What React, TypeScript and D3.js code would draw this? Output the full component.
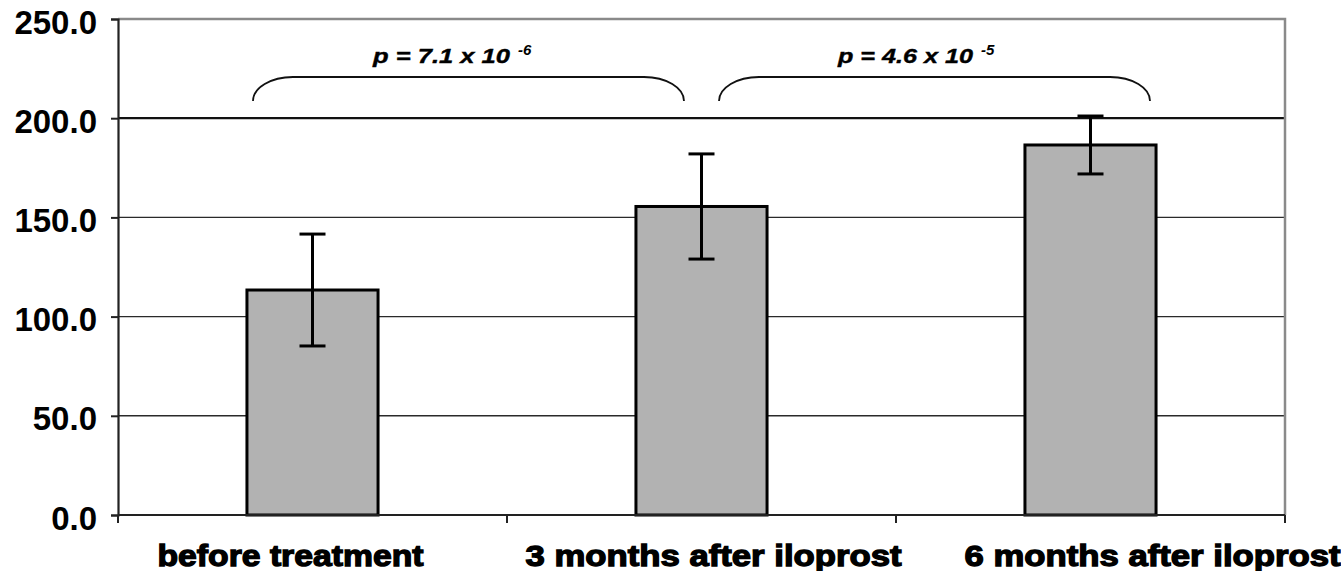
import React, { useEffect, useRef } from 'react';
import * as d3 from 'd3';

const categories = ['before treatment', '3 months after iloprost', '6 months after iloprost'];
const means = [113.4, 155.5, 186.5];
const errors = [28.2, 26.5, 14.6];
const yTicks = [0, 50, 100, 150, 200, 250];
const pLabels = [
  { base: 'p = 7.1 x 10', exp: '-6' },
  { base: 'p = 4.6 x 10', exp: '-5' },
];

const W = 1341;
const H = 571;

const App: React.FC = () => {
  const svgRef = useRef<SVGSVGElement | null>(null);

  useEffect(() => {
    if (!svgRef.current) return;
    const svg = d3.select(svgRef.current);
    svg.selectAll('*').remove();

    const left = 118;
    const right = 1285;
    const top = 19;
    const bottom = 515;

    const x = d3.scaleBand<string>().domain(categories).range([left, right]).paddingInner(0.663).paddingOuter(0.3315);
    const y = d3.scaleLinear().domain([0, 250]).range([bottom, top]);
    const step = x.step();
    const center = (i: number) => (x(categories[i]) as number) + x.bandwidth() / 2;

    svg.append('rect').attr('width', W).attr('height', H).attr('fill', '#fff');

    // gridlines
    svg
      .append('g')
      .selectAll('line')
      .data(yTicks.filter((t) => t > 0 && t < 250))
      .enter()
      .append('line')
      .attr('x1', left)
      .attr('x2', right)
      .attr('y1', (d) => y(d))
      .attr('y2', (d) => y(d))
      .attr('stroke', (d) => (d === 200 ? '#111' : '#2a2a2a'))
      .attr('stroke-width', (d) => (d === 200 ? 2.2 : 1.4));

    // frame top + right
    svg
      .append('path')
      .attr('d', `M${left},${top}H${right}V${bottom}`)
      .attr('fill', 'none')
      .attr('stroke', '#8a8a8a')
      .attr('stroke-width', 2.5);

    // bars
    svg
      .append('g')
      .selectAll('rect')
      .data(means)
      .enter()
      .append('rect')
      .attr('x', (_, i) => x(categories[i]) as number)
      .attr('y', (d) => y(d))
      .attr('width', x.bandwidth())
      .attr('height', (d) => y(0) - y(d))
      .attr('fill', '#b2b2b2')
      .attr('stroke', '#000')
      .attr('stroke-width', 3);

    // error bars
    const eb = svg.append('g').attr('stroke', '#000').attr('stroke-width', 3);
    means.forEach((m, i) => {
      const cx = center(i);
      eb.append('line').attr('x1', cx).attr('x2', cx).attr('y1', y(m + errors[i])).attr('y2', y(m - errors[i]));
      [m + errors[i], m - errors[i]].forEach((v) => {
        eb.append('line').attr('x1', cx - 13).attr('x2', cx + 13).attr('y1', y(v)).attr('y2', y(v));
      });
    });

    // axes
    const yAxis = d3.axisLeft(y).tickValues(yTicks).tickSize(7).tickPadding(14).tickFormat(d3.format('.1f'));
    const gy = svg.append('g').attr('transform', `translate(${left},0)`).call(yAxis);
    gy.select('.domain').attr('stroke', '#222').attr('stroke-width', 2.2);
    gy.selectAll('.tick line').attr('stroke', '#222').attr('stroke-width', 2);
    gy.selectAll('.tick text')
      .attr('font-family', '"Liberation Sans", Arial, sans-serif')
      .attr('font-weight', 'bold')
      .attr('font-size', 33)
      .attr('fill', '#000')
      .attr('dy', 14);

    const boundaries = d3.range(categories.length + 1).map((i) => left + i * step);
    const gx = svg.append('g');
    gx.append('line').attr('x1', left).attr('x2', right).attr('y1', bottom).attr('y2', bottom).attr('stroke', '#222').attr('stroke-width', 2.2);
    gx.selectAll('line.tk')
      .data(boundaries)
      .enter()
      .append('line')
      .attr('class', 'tk')
      .attr('x1', (d) => d)
      .attr('x2', (d) => d)
      .attr('y1', bottom)
      .attr('y2', bottom + 8)
      .attr('stroke', '#222')
      .attr('stroke-width', 2);

    const labelShift = [-22, 12, 62];
    const labelWidth = [266, 376, 376];
    gx.selectAll('text')
      .data(categories)
      .enter()
      .append('text')
      .attr('x', (_, i) => center(i) + labelShift[i])
      .attr('y', 566)
      .attr('text-anchor', 'middle')
      .attr('textLength', (_, i) => labelWidth[i])
      .attr('lengthAdjust', 'spacingAndGlyphs')
      .attr('font-family', '"Liberation Sans", Arial, sans-serif')
      .attr('font-weight', 'bold')
      .attr('font-size', 30)
      .attr('fill', '#000')
      .attr('stroke', '#000')
      .attr('stroke-width', 1.3)
      .text((d) => d);

    // significance braces
    const braces = [
      [center(0) - 0.153 * step, center(1) - 0.045 * step],
      [center(1) + 0.045 * step, center(2) + 0.153 * step],
    ];
    const yb = 101;
    const yt = 77;
    const rx = 40;
    const textShift = [-27, -29];
    const baseWidth = [137, 135];
    const ann = svg.append('g');
    braces.forEach(([x0, x1], i) => {
      ann
        .append('path')
        .attr('d', `M${x0},${yb}A${rx},${yb - yt} 0 0 1 ${x0 + rx},${yt}H${x1 - rx}A${rx},${yb - yt} 0 0 1 ${x1},${yb}`)
        .attr('fill', 'none')
        .attr('stroke', '#111')
        .attr('stroke-width', 1.8);
      const mid = (x0 + x1) / 2 + textShift[i];
      ann
        .append('text')
        .attr('x', mid)
        .attr('y', 63)
        .attr('text-anchor', 'middle')
        .attr('font-family', '"Liberation Sans", Arial, sans-serif')
        .attr('font-weight', 'bold')
        .attr('font-style', 'italic')
        .attr('font-size', 20)
        .attr('fill', '#000')
        .attr('stroke', '#000')
        .attr('stroke-width', 0.4)
        .attr('textLength', baseWidth[i])
        .attr('lengthAdjust', 'spacingAndGlyphs')
        .text(pLabels[i].base);
      ann
        .append('text')
        .attr('x', mid + baseWidth[i] / 2 + 8)
        .attr('y', 55)
        .attr('font-family', '"Liberation Sans", Arial, sans-serif')
        .attr('font-weight', 'bold')
        .attr('font-style', 'italic')
        .attr('font-size', 15)
        .attr('fill', '#000')
        .text(pLabels[i].exp);
    });
  }, []);

  return (
    <svg
      ref={svgRef}
      width={W}
      height={H}
      style={{ position: 'absolute', left: 0, top: 0, display: 'block', overflow: 'hidden' }}
    />
  );
};

export default App;
